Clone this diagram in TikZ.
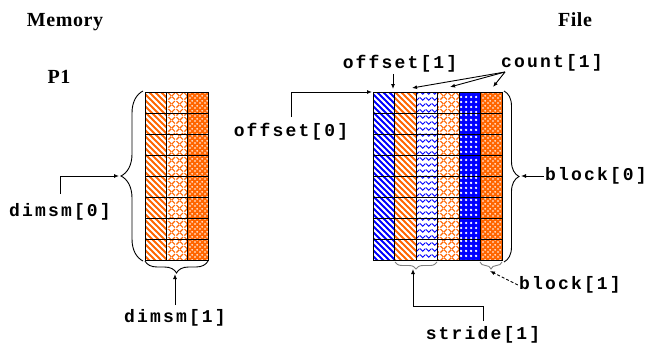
\documentclass[tikz,border=0pt]{standalone}
\usepackage{fontspec}
\setmainfont{Liberation Serif}
\newfontfamily\codefont[LetterSpace=12]{Liberation Mono}
\newfontfamily\titlefont[LetterSpace=3]{Liberation Serif}
\usetikzlibrary{arrows.meta, patterns, decorations.pathreplacing}

\definecolor{hdforange}{RGB}{255,102,0}
\definecolor{hdfblue}{RGB}{0,0,255}

% hatch patterns for the cells
\pgfdeclarepatternformonly{stripes}{\pgfqpoint{-1pt}{-1pt}}{\pgfqpoint{7pt}{7pt}}{\pgfqpoint{6pt}{6pt}}{%
  \pgfsetlinewidth{2pt}%
  \pgfpathmoveto{\pgfqpoint{-0.5pt}{6.5pt}}%
  \pgfpathlineto{\pgfqpoint{6.5pt}{-0.5pt}}%
  \pgfusepath{stroke}}
\pgfdeclarepatternformonly{chevron}{\pgfqpoint{0pt}{0pt}}{\pgfqpoint{6pt}{6pt}}{\pgfqpoint{6pt}{6pt}}{%
  \pgfsetlinewidth{1pt}%
  \pgfpathmoveto{\pgfqpoint{0pt}{5pt}}%
  \pgfpathlineto{\pgfqpoint{3pt}{2pt}}%
  \pgfpathlineto{\pgfqpoint{6pt}{5pt}}%
  \pgfusepath{stroke}}
\pgfdeclarepatternformonly{weave}{\pgfqpoint{0pt}{0pt}}{\pgfqpoint{8pt}{8pt}}{\pgfqpoint{8pt}{8pt}}{%
  \pgfsetlinewidth{1.2pt}%
  \pgfpathmoveto{\pgfqpoint{0.5pt}{0.5pt}}\pgfpathlineto{\pgfqpoint{3.5pt}{3.5pt}}%
  \pgfpathmoveto{\pgfqpoint{4.5pt}{3.5pt}}\pgfpathlineto{\pgfqpoint{7.5pt}{0.5pt}}%
  \pgfpathmoveto{\pgfqpoint{0.5pt}{7.5pt}}\pgfpathlineto{\pgfqpoint{3.5pt}{4.5pt}}%
  \pgfpathmoveto{\pgfqpoint{4.5pt}{4.5pt}}\pgfpathlineto{\pgfqpoint{7.5pt}{7.5pt}}%
  \pgfusepath{stroke}}
\pgfdeclarepatternformonly{griddots}{\pgfqpoint{0pt}{0pt}}{\pgfqpoint{4.5pt}{4.5pt}}{\pgfqpoint{4.5pt}{4.5pt}}{%
  \pgfpathcircle{\pgfqpoint{2.25pt}{2.25pt}}{1.35pt}\pgfusepath{fill}}
\pgfdeclarepatternformonly{diagdots}{\pgfqpoint{0pt}{0pt}}{\pgfqpoint{4.5pt}{4.5pt}}{\pgfqpoint{4.5pt}{4.5pt}}{%
  \pgfpathcircle{\pgfqpoint{1.1pt}{1.1pt}}{1pt}%
  \pgfpathcircle{\pgfqpoint{3.35pt}{3.35pt}}{1pt}\pgfusepath{fill}}

\tikzset{
  cell/.style={draw=black, line width=1pt},
  ostripe/.style={preaction={fill=hdforange}, pattern=stripes, pattern color=white},
  bstripe/.style={preaction={fill=hdfblue}, pattern=stripes, pattern color=white},
  bchevron/.style={preaction={fill=white}, pattern=chevron, pattern color=hdfblue},
  oweave/.style={preaction={fill=white}, pattern=weave, pattern color=hdforange},
  bdots/.style={preaction={fill=hdfblue}, pattern=griddots, pattern color=white},
  odots/.style={preaction={fill=hdforange}, pattern=diagdots, pattern color=white},
  curly/.style={decorate, decoration={brace, amplitude=#1}},
}

\begin{document}
\begin{tikzpicture}[x=1pt, y=-1pt, >={Latex[length=5pt,width=4pt]}, line width=0.9pt,
    code/.style={font=\codefont\bfseries\fontsize{18}{18}\selectfont, inner sep=1pt},
    title/.style={font=\titlefont\bfseries\fontsize{20}{20}\selectfont, inner sep=1pt}]
    \useasboundingbox (0,0) rectangle (647,348);

    % Memory buffer
    \foreach \s [count=\c from 0] in {ostripe, oweave, odots}
        \foreach \r in {0,...,7}
            \draw[cell, \s] ({145+\c*21.33}, {92+\r*21}) rectangle ++(21.33,21);

    % File dataspace
    \foreach \s [count=\c from 0] in {bstripe, ostripe, bchevron, oweave, bdots, odots}
        \foreach \r in {0,...,7}
            \draw[cell, \s] ({373+\c*21.5}, {92+\r*21}) rectangle ++(21.5,21);

    % Titles
    \node[title] (memory) at (65,22) {Memory};
    \node[title] (p1) at (59,77) {P1};
    \node[title] (file) at (575,20) {File};

    % Labels
    \node[code] (dimsm0) at (60,212) {dimsm[0]};
    \node[code] (dimsm1) at (175,318) {dimsm[1]};
    \node[code] (off0) at (291,132) {offset[0]};
    \node[code] (off1) at (400,64) {offset[1]};
    \node[code] (cnt1) at (552,63) {count[1]};
    \node[code] (blk0) at (596,176) {block[0]};
    \node[code] (blk1) at (570,285) {block[1]};
    \node[code] (str1) at (483,335) {stride[1]};

    % Braces
    \draw[curly=22pt] (143,261) -- (143,91);
    \draw[curly=12pt] (208,261) -- (145,261);
    \draw[curly=15pt] (504,91) -- (504,262);
    \draw[curly=7pt, gray] (437,262) -- (395,262);
    \draw[curly=7pt, gray] (502,262) -- (480,262);

    % Arrow ends
    \coordinate (memtip) at (119,176);
    \coordinate (memtipb) at (175,274);
    \coordinate (filetl) at (372,92);
    \coordinate (off1tip) at (393,89);
    \coordinate (cntsrc) at (505,72);
    \coordinate (cnta) at (412,88);
    \coordinate (cntb) at (450,87);
    \coordinate (cntc) at (493,87);
    \coordinate (blk0tip) at (521,176);
    \coordinate (blk1tip) at (490,271);
    \coordinate (strtip) at (413,269);

    % Arrows
    \draw[->] ([yshift=8pt]dimsm0.north) |- (memtip);
    \draw[->] ([yshift=3pt]dimsm1.north) -- (memtipb);
    \draw[->] ([yshift=5pt]off0.north) |- (filetl);
    \draw[->] (off1.south -| off1tip) -- (off1tip);
    \foreach \t in {cnta, cntb, cntc}
        \draw[->] (cntsrc) -- (\t);
    \draw[->] (blk0.west) -- (blk0tip);
    \draw[->, densely dashed] (blk1.west) -- (blk1tip);
    \draw[->] ([yshift=4pt]str1.north) -- ++(0,-15) -| (strtip);
\end{tikzpicture}
\end{document}
